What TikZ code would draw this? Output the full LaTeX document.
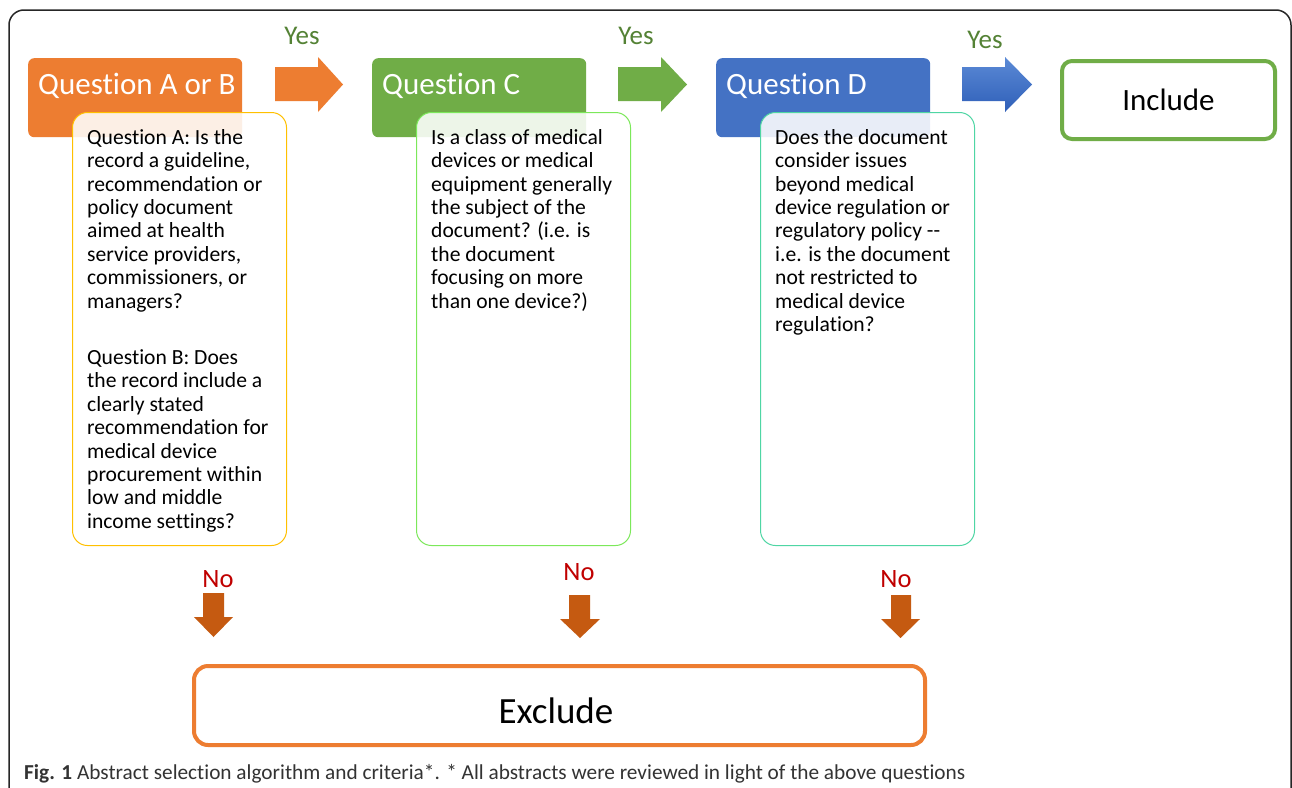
\documentclass[tikz,border=0pt]{standalone}
\usepackage{fontspec}
\setmainfont{Carlito}[Ligatures={NoCommon}]
\definecolor{qorange}{HTML}{ED7D31}
\definecolor{qgreen}{HTML}{70AD47}
\definecolor{qblue}{HTML}{4472C4}
\definecolor{qblueL}{HTML}{5B8AD6}
\definecolor{qblueD}{HTML}{2F5FB8}
\definecolor{yesgreen}{HTML}{548235}
\definecolor{nored}{HTML}{C00000}
\definecolor{downbrown}{HTML}{C55A11}
\definecolor{borderA}{HTML}{FFC000}
\definecolor{borderC}{HTML}{7CE85A}
\definecolor{borderD}{HTML}{4FD6A4}
\definecolor{captiongray}{HTML}{333333}
\tikzset{
  x=1pt, y=-1pt,
  header/.style={fill=#1, rounded corners=6pt, minimum width=214pt, minimum height=79pt, anchor=north west, inner sep=0pt},
  headtext/.style={text=white, font=\fontsize{31}{34}\selectfont, anchor=base west, inner sep=0pt},
  qbox/.style={draw=#1, line width=1pt, fill=white, fill opacity=0.88, draw opacity=1, rounded corners=15pt, minimum width=214pt, minimum height=433pt, anchor=north west, inner sep=0pt},
  qtext/.style={font=\fontsize{21.6}{23.4}\selectfont, align=left, anchor=north west, inner sep=0pt, text=black},
  yeslabel/.style={text=yesgreen, font=\fontsize{27}{30}\selectfont, anchor=base, inner sep=0pt},
  nolabel/.style={text=nored, font=\fontsize{26.5}{30}\selectfont, anchor=base, inner sep=0pt},
  rarrow/.style={fill=#1, draw=none},
  darrow/.style={fill=downbrown, draw=none},
  outcome/.style={draw=#1, line width=4pt, fill=white, anchor=north west, inner sep=0pt},
}
\begin{document}
\begin{tikzpicture}
\useasboundingbox (0,0) rectangle (1292,787);
\fill[white] (0,0) rectangle (1292,787);
% outer frame
\begin{scope}
\clip (0,0) rectangle (1292,787);
\draw[line width=1.5pt, black!85, rounded corners=15pt] (9,10) rectangle (1291,820);
\end{scope}

% headers
\node[header=qorange] (hA) at (28,58) {};
\node[header=qgreen] (hC) at (372,58) {};
\node[header=qblue] (hD) at (716,58) {};
\node[headtext] (hAt) at (38,94) {Question A or B};
\node[headtext] (hCt) at (382,94) {Question C};
\node[headtext] (hDt) at (726,94) {Question D};

% question boxes
\node[qbox=borderA] (tA) at (72,112) {};
\node[qbox=borderC] (tC) at (416,112) {};
\node[qbox=borderD] (tD) at (760,112) {};

\node[qtext] (tAt) at (87,129) {Question A: Is the\\record a guideline,\\recommendation or\\policy document\\aimed at health\\service providers,\\commissioners, or\\managers?\\[33pt]Question B: Does\\the record include a\\clearly stated\\recommendation for\\medical device\\procurement within\\low and middle\\income settings?};
\node[qtext] (tCt) at (431,129) {Is a class of medical\\devices or medical\\equipment generally\\the subject of the\\document? (i.e. is\\the document\\focusing on more\\than one device?)};
\node[qtext] (tDt) at (775,129) {Does the document\\consider issues\\beyond medical\\device regulation or\\regulatory policy -{}-\\i.e. is the document\\not restricted to\\medical device\\regulation?};

% yes arrows
\fill[rarrow=qorange] (275,67) -- (318,67) -- (318,57) -- (343,84.5) -- (318,112) -- (318,101) -- (275,101) -- cycle;
\fill[rarrow=qgreen] (618,67) -- (661,67) -- (661,57) -- (687,84.5) -- (661,112) -- (661,101) -- (618,101) -- cycle;
\shade[top color=qblueL, bottom color=qblueD] (962,67) -- (1005,67) -- (1005,57) -- (1032,84.5) -- (1005,112) -- (1005,101) -- (962,101) -- cycle;
\node[yeslabel] (y1) at (302,44) {Yes};
\node[yeslabel] (y2) at (636,44) {Yes};
\node[yeslabel] (y3) at (985,48) {Yes};

% include
\node[outcome=qgreen, rounded corners=10pt, minimum width=213pt, minimum height=78pt] (inc) at (1060,59) {};
\node[font=\fontsize{31}{34}\selectfont, inner sep=0pt] (inct) at (inc.center) {Include};

% no arrows
\fill[darrow] (203,593) -- (224,593) -- (224,617) -- (233,617) -- (213.5,637) -- (194,617) -- (203,617) -- cycle;
\fill[darrow] (569,595) -- (590,595) -- (590,619) -- (600,619) -- (580,638) -- (560,619) -- (569,619) -- cycle;
\fill[darrow] (891,595) -- (911,595) -- (911,619) -- (920,619) -- (900.5,638) -- (881,619) -- (891,619) -- cycle;
\node[nolabel] (n1) at (218,587) {No};
\node[nolabel] (n2) at (579,580) {No};
\node[nolabel] (n3) at (896,587) {No};

% exclude
\node[outcome=qorange, rounded corners=14pt, minimum width=731pt, minimum height=79pt] (exc) at (192,664) {};
\node[font=\fontsize{37}{40}\selectfont, inner sep=0pt] (exct) at (556,711) {Exclude};

% caption
\node[anchor=base west, inner sep=0pt, text=captiongray, font=\fontsize{21.3}{23}\selectfont] (cap) at (24,779) {\textbf{Fig. 1} Abstract selection algorithm and criteria*. * All abstracts were reviewed in light of the above questions};
\end{tikzpicture}
\end{document}
